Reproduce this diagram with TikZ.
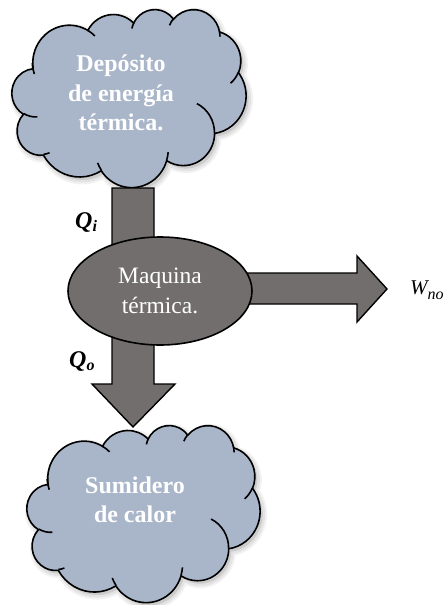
\documentclass[tikz,border=0pt]{standalone}
\usepackage{fontspec}
\setmainfont{Liberation Serif}
\usetikzlibrary{shapes.geometric}
\definecolor{cloudfill}{RGB}{169,181,201}
\definecolor{arrowgray}{RGB}{114,110,110}
% arc in the OOXML sense (visual angles) -> TikZ parametric angles
\newcommand\ooarc[4]{%
  \pgfextra{%
    \pgfmathparse{atan2(#1*sin(#3),#2*cos(#3))}\global\let\ooA\pgfmathresult
    \pgfmathparse{atan2(#1*sin(#3+#4),#2*cos(#3+#4))}\global\let\ooB\pgfmathresult
    \pgfmathparse{\ooB-\ooA}%
    \ifdim\pgfmathresult pt<0pt \pgfmathparse{\pgfmathresult+360}\fi
    \global\let\ooD\pgfmathresult}%
  arc[start angle=\ooA, delta angle=\ooD, x radius=#1pt, y radius=#2pt]}
\newcommand\oocloudpath{(3.9,14.37)
  \ooarc{6.753}{9.190}{-190.48748}{123.78053}
  \ooarc{5.333}{7.267}{-144.10238}{89.94523}
  \ooarc{4.365}{5.945}{-145.80792}{99.72302}
  \ooarc{4.857}{6.595}{-130.98607}{117.24173}
  \ooarc{5.333}{7.273}{-78.70888}{109.02692}
  \ooarc{6.775}{9.220}{-46.26725}{130.269}
  \ooarc{5.785}{7.867}{0.62502}{114.03333}
  \ooarc{6.752}{9.215}{22.4516}{115.17255}
  \ooarc{7.720}{10.543}{66.24263}{75.71102}
  \ooarc{4.360}{5.918}{-274.94208}{146.73557}
  \ooarc{4.345}{5.945}{-246.8285}{152.51885} -- cycle}
\newcommand\oocloudinner{%
  (4.693,26.177) \ooarc{4.345}{5.945}{86.742}{26.4295}
  (6.928,34.899) \ooarc{4.360}{5.918}{73.61047}{11.44747}
  (16.478,39.090) \ooarc{6.752}{9.215}{137.62415}{14.0811}
  (28.827,34.751) \ooarc{6.752}{9.215}{6.45327}{15.99835}
  (34.129,22.954) \ooarc{5.785}{7.867}{-70.29235}{70.91737}
  (41.798,15.354) \ooarc{5.333}{7.273}{30.31803}{27.7515}
  (38.324,5.426) \ooarc{4.857}{6.595}{-13.74433}{14.8589}
  (29.078,3.952) \ooarc{4.857}{6.595}{-149.18145}{18.19537}
  (22.141,4.720) \ooarc{4.365}{5.945}{-163.49427}{17.68635}
  (14.000,5.192) \ooarc{6.753}{9.190}{-66.70695}{12.31935}
  (4.127,15.789) \ooarc{6.753}{9.190}{153.73475}{21.72}}
% #1,#2 top-left corner (px, y down), #3 width, #4 height
\newcommand\ooCloud[4]{%
  \begin{scope}[shift={(#1+2.5,-#2-3)}, xscale=#3/43.2, yscale=-#4/43.2]
    \fill[black, opacity=0.10] \oocloudpath;
    \draw[black, opacity=0.05, line width=9pt, line join=round] \oocloudpath;
    \draw[black, opacity=0.06, line width=5pt, line join=round] \oocloudpath;
  \end{scope}
  \begin{scope}[shift={(#1,-#2)}, xscale=#3/43.2, yscale=-#4/43.2]
    \filldraw[fill=cloudfill, draw=black, line width=1.6pt] \oocloudpath;
    \draw[black, line width=1.6pt] \oocloudinner;
  \end{scope}}
\begin{document}
\begin{tikzpicture}[x=1pt, y=1pt,
  blockarrow/.style={fill=arrowgray, draw=black, line width=1.4pt, line join=miter},
  cloudtext/.style={text=white, align=center, inner sep=0pt,
    font=\bfseries\fontsize{24}{29.5}\selectfont},
  qlabel/.style={anchor=base west, inner sep=0pt,
    font=\bfseries\itshape\fontsize{24}{24}\selectfont}]
\useasboundingbox (0,0) rectangle (447,-605);
\fill[white] (0,0) rectangle (447,-605);
% top cloud
\ooCloud{12}{9}{234}{178}
\node[cloudtext] (dep) at (121,-93) {Depósito\\de energía\\térmica.};
% vertical block arrow (heat flow)
\coordinate (vtop) at (133,-188);
\coordinate (vtip) at (133,-427);
\draw[blockarrow] ([xshift=-21pt]vtop) -- ([xshift=21pt]vtop) -- (154,-384) -- (175,-384)
  -- (vtip) -- (92,-384) -- (112,-384) -- cycle;
% horizontal block arrow (work)
\coordinate (htip) at (387,-289);
\draw[blockarrow] (236,-273) -- (357,-273) -- (357,-256) -- (htip) -- (357,-322)
  -- (357,-304) -- (236,-304) -- cycle;
% engine
\node[ellipse, draw=black, line width=1.6pt, fill=arrowgray, minimum width=184pt,
  minimum height=108pt, inner sep=0pt, text=white, align=center,
  font=\fontsize{23.5}{30}\selectfont] (eng) at (160,-291) {Maquina\\térmica.};
% bottom cloud
\ooCloud{27}{425}{233}{177}
\node[cloudtext] (sum) at (135,-500) {Sumidero\\de calor};
% labels
\node[qlabel] (qi) at (75,-228) {Q{\fontsize{16}{16}\selectfont\raisebox{-3pt}{i}}};
\node[qlabel] (qo) at (69,-367) {Q{\fontsize{16}{16}\selectfont\raisebox{-3pt}{o}}};
\node[anchor=base west, inner sep=0pt, font=\itshape\fontsize{21}{21}\selectfont] (w)
  at (410,-294) {W{\fontsize{16}{16}\selectfont\raisebox{-5pt}{no}}};
\end{tikzpicture}
\end{document}
